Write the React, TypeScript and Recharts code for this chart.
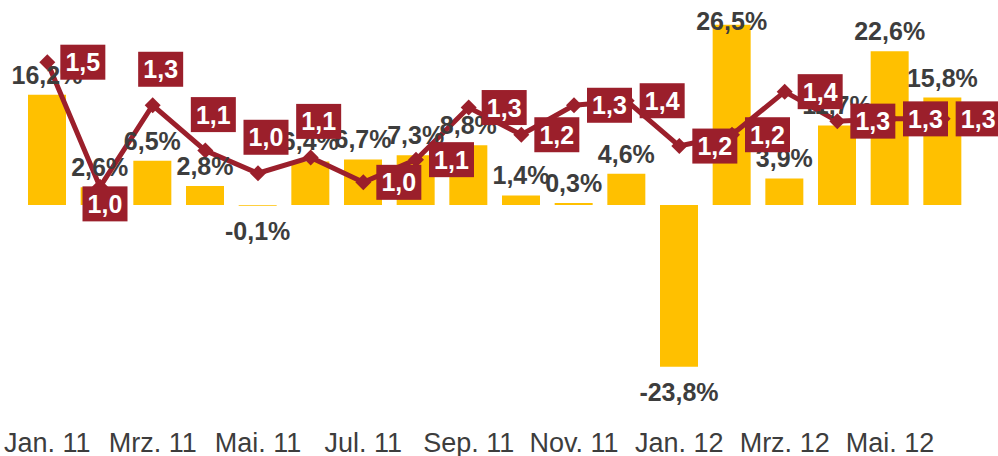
import React from 'react';
import { ComposedChart, Bar, Line, XAxis, YAxis, LabelList } from 'recharts';

const months = ['Jan. 11', 'Feb. 11', 'Mrz. 11', 'Apr. 11', 'Mai. 11', 'Jun. 11', 'Jul. 11', 'Aug. 11', 'Sep. 11', 'Okt. 11', 'Nov. 11', 'Dez. 11', 'Jan. 12', 'Feb. 12', 'Mrz. 12', 'Apr. 12', 'Mai. 12', 'Jun. 12'];
const changePct = [16.2, 2.6, 6.5, 2.8, -0.1, 6.4, 6.7, 7.3, 8.8, 1.4, 0.3, 4.6, -23.8, 26.5, 3.9, 11.7, 22.6, 15.8];
const ratio = [1.53, 0.98, 1.34, 1.14, 1.04, 1.11, 1.0, 1.1, 1.33, 1.21, 1.34, 1.36, 1.16, 1.21, 1.4, 1.27, 1.28, 1.28];
const ratioLabelPlacement = ['right', 'below', 'above', 'above', 'above', 'above', 'right', 'right', 'right', 'right', 'right', 'right', 'right', 'right', 'right', 'right', 'right', 'right'];

const data = months.map((m, i) => ({ month: m, change: changePct[i], ratio: ratio[i] }));

const FONT = '"Liberation Sans", Arial, sans-serif';
const YELLOW = '#FFC000';
const RED = '#9B1F2B';
const TEXT = '#3d3d3d';

const fmt = (v: number, digits: number) => v.toFixed(digits).replace('.', ',');

const BarLabel = (props: any) => {
  const { x, y, width, height, value } = props;
  const top = Math.min(y, y + height);
  const bottom = Math.max(y, y + height);
  const cx = x + width / 2;
  const base = value >= 0 ? Math.max(top - 11, 30) : bottom + 34;
  return (
    <text x={cx} y={base} textAnchor="middle" fontFamily={FONT} fontWeight="bold" fontSize={25} fill={TEXT}>
      {fmt(value, 1) + '%'}
    </text>
  );
};

const RatioLabel = (props: any) => {
  const { x, y, value, index } = props;
  const place = ratioLabelPlacement[index];
  let cx = x + 35.5;
  let cy = y;
  if (place === 'above') {
    cx = x + 8;
    cy = y - 36;
  } else if (place === 'below') {
    cx = x + 5;
    cy = y + 17;
  }
  const w = 45;
  const h = 35;
  return (
    <g>
      <rect x={cx - w / 2} y={cy - h / 2} width={w} height={h} fill={RED} />
      <text x={cx} y={cy + 9} textAnchor="middle" fontFamily={FONT} fontWeight="bold" fontSize={25} fill="#ffffff">
        {fmt(value, 1)}
      </text>
    </g>
  );
};

const Diamond = (props: any) => {
  const { cx, cy } = props;
  if (cx == null || cy == null) return null;
  const r = 8;
  return <polygon points={`${cx},${cy - r} ${cx + r},${cy} ${cx},${cy + r} ${cx - r},${cy}`} fill={RED} stroke="none" />;
};

const MonthTick = (props: any) => {
  const { x, y, payload } = props;
  return (
    <text x={x} y={y} dy={35} textAnchor="middle" fontFamily={FONT} fontSize={27} fill={TEXT}>
      {payload.value}
    </text>
  );
};

export default function App() {
  return (
    <div style={{ position: 'absolute', left: 0, top: 0, width: 998, height: 456, background: '#fff' }}>
      <ComposedChart width={998} height={456} data={data} margin={{ top: 1, right: 29, bottom: 0, left: 21 }}>
        <XAxis dataKey="month" interval={1} axisLine={false} tickLine={false} height={47} tick={<MonthTick />} />
        <YAxis yAxisId="left" hide domain={[-30, 30]} />
        <YAxis yAxisId="right" orientation="right" hide domain={[0, 1.8]} />
        <Bar yAxisId="left" dataKey="change" fill={YELLOW} barSize={38} isAnimationActive={false}>
          <LabelList dataKey="change" content={<BarLabel />} />
        </Bar>
        <Line yAxisId="right" dataKey="ratio" stroke={RED} strokeWidth={5} dot={<Diamond />} activeDot={false} isAnimationActive={false}>
          <LabelList dataKey="ratio" content={<RatioLabel />} />
        </Line>
      </ComposedChart>
    </div>
  );
}
